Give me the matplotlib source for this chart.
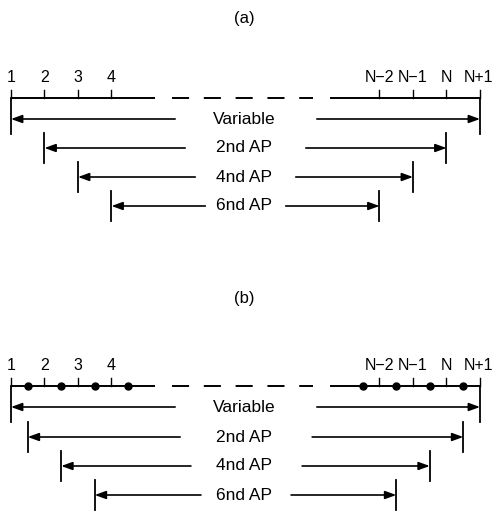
import matplotlib
matplotlib.use("Agg")
import matplotlib.pyplot as plt

plt.rcParams['font.family'] = ['Liberation Sans', 'DejaVu Sans']
plt.rcParams['lines.scale_dashes'] = False

# grid nodes (in node units), the gap between 4 and N-2 is drawn dashed
left_nodes = [1, 2, 3, 4]
left_labels = ['1', '2', '3', '4']
right_nodes = [12, 13, 14, 15]
right_labels = ['N\u22122', 'N\u22121', 'N', 'N+1']

row_labels = ['Variable', '2nd AP', '4nd AP', '6nd AP']

# (a) stencil ends on grid nodes
a_left = [1, 2, 3, 4]
a_right = [15, 14, 13, 12]
a_left_tail = [5.9, 6.2, 6.5, 6.8]
a_right_tail = [10.13, 9.8, 9.5, 9.2]

# (b) stencil ends on cell centres (dots)
b_dots = [1.5, 2.5, 3.5, 4.5, 11.5, 12.5, 13.5, 14.5]
b_left = [1, 1.5, 2.5, 3.5]
b_right = [15, 14.5, 13.5, 12.5]
b_left_tail = [5.9, 6.05, 6.37, 6.67]
b_right_tail = [10.13, 9.99, 9.69, 9.36]

fig = plt.figure(figsize=(4.93, 5.11), dpi=100)
ax = fig.add_axes([0, 0, 1, 1])
ax.set_xlim(1 - 11 / 33.5, 1 + 482 / 33.5)
ax.set_ylim(511, 0)
ax.axis('off')


def draw_panel(title, ty, axis_y, row_y, lefts, rights, ltails, rtails, dots=None):
    ax.text(7.95, ty, title, ha='center', va='center', fontsize=12)
    # axis: solid pieces plus dashed break
    ax.plot([1, 5.3], [axis_y, axis_y], color='black', lw=1.4, solid_capstyle='butt')
    ax.plot([10.52, 15], [axis_y, axis_y], color='black', lw=1.4, solid_capstyle='butt')
    ax.plot([5.806, 10.02], [axis_y, axis_y], color='black', lw=1.4,
            linestyle=(0, (12.3, 10.6)), dash_capstyle='butt')
    for n, lab in zip(left_nodes + right_nodes, left_labels + right_labels):
        ax.plot([n, n], [axis_y - 8, axis_y], color='black', lw=1.0)
        ax.text(n - (0.05 if lab == 'N+1' else 0), axis_y - 20, lab,
                ha='center', va='center', fontsize=11.5)
    if dots:
        ax.plot(dots, [axis_y] * len(dots), 'o', color='black', ms=5)
    for i, lab in enumerate(row_labels):
        y = row_y[i]
        top = axis_y if i == 0 else y - 15
        for xe in (lefts[i], rights[i]):
            ax.plot([xe, xe], [top, y + 15], color='black', lw=1.3)
        for xe, xt in ((lefts[i], ltails[i]), (rights[i], rtails[i])):
            ax.annotate('', xy=(xe, y), xytext=(xt, y),
                        arrowprops=dict(arrowstyle='-|>,head_length=0.55,head_width=0.2',
                                        lw=1.2, color='black', shrinkA=0, shrinkB=0,
                                        mutation_scale=12))
        ax.text(7.95, y, lab, ha='center', va='center', fontsize=12.5)


draw_panel('(a)', 18, 98, [119, 148, 177, 206], a_left, a_right, a_left_tail, a_right_tail)
draw_panel('(b)', 299, 386, [407, 437, 466, 495], b_left, b_right, b_left_tail, b_right_tail,
           dots=b_dots)

fig.savefig('out.png', dpi=100)
